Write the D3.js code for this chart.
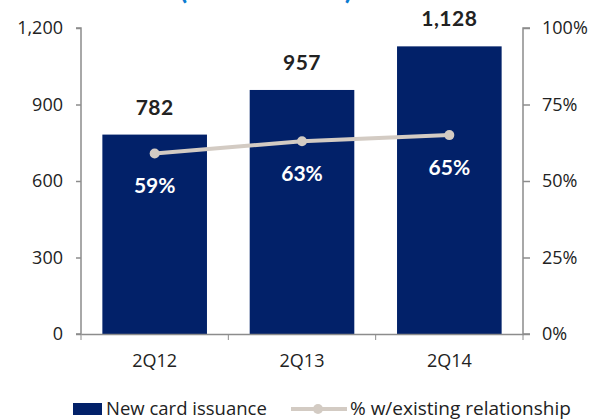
<!DOCTYPE html>
<html>
<head>
<meta charset="utf-8">
<script src="https://cdn.jsdelivr.net/npm/d3@7"></script>
<style>
  body { margin: 0; background: #fff; }
  svg { display: block; font-family: "Open Sans", sans-serif; }
</style>
</head>
<body>
<svg id="chart" width="591" height="420"></svg>
<script>
// new card issuance (thousands) and share with an existing relationship
var quarters = ["2Q12", "2Q13", "2Q14"];
var issuance = [782, 957, 1128];
var pctExisting = [0.59, 0.63, 0.65];
var leftTicks = [0, 300, 600, 900, 1200];
var rightTicks = [0, 0.25, 0.5, 0.75, 1];

var margin = {top: 28, right: 68, bottom: 86, left: 81},
    width = 591 - margin.left - margin.right,
    height = 420 - margin.top - margin.bottom;

var svg = d3.select("#chart");

// title sits mostly above the picture, only the parens peek in
svg.append("text")
    .attr("x", 266)
    .attr("y", -1)
    .attr("text-anchor", "middle")
    .style("font-family", "Lato, sans-serif")
    .style("font-size", "28px")
    .style("font-weight", "bold")
    .style("fill", "#0a7bd1")
    .text("(in thousands)");

var g = svg.append("g")
    .attr("transform", "translate(" + margin.left + "," + margin.top + ")");

var x = d3.scaleBand()
    .domain(quarters)
    .range([0, width])
    .paddingInner(0.29)
    .paddingOuter(0.145);

var y = d3.scaleLinear()
    .domain([0, 1200])
    .range([height, 0]);

var y2 = d3.scaleLinear()
    .domain([0, 1])
    .range([height, 0]);

// bars
g.selectAll(".bar")
    .data(issuance)
    .enter().append("rect")
    .attr("class", "bar")
    .attr("x", function(d, i) { return x(quarters[i]); })
    .attr("y", function(d) { return y(d); })
    .attr("width", x.bandwidth())
    .attr("height", function(d) { return height - y(d); })
    .style("fill", "#022169");

g.selectAll(".barlabel")
    .data(issuance)
    .enter().append("text")
    .attr("class", "barlabel")
    .attr("x", function(d, i) { return x(quarters[i]) + x.bandwidth() / 2; })
    .attr("y", function(d) { return y(d) - 20; })
    .attr("text-anchor", "middle")
    .style("font-family", "Lato, sans-serif")
    .style("font-size", "21px")
    .style("font-weight", "bold")
    .style("letter-spacing", "0.5px")
    .style("fill", "#222")
    .text(d3.format(","));

// axes
var axisColor = "#8c8c8c";

var yAxis = g.append("g")
    .call(d3.axisLeft(y).tickValues(leftTicks).tickSize(5).tickPadding(13).tickFormat(d3.format(",")));

var y2Axis = g.append("g")
    .attr("transform", "translate(" + width + ",0)")
    .call(d3.axisRight(y2).tickValues(rightTicks).tickSize(7).tickPadding(12).tickFormat(d3.format(".0%")));

var xAxis = g.append("g")
    .attr("transform", "translate(0," + height + ")")
    .call(d3.axisBottom(x).tickSize(0).tickPadding(20));

// ticks between categories on the x axis
var step = x.step();
g.selectAll(".xtick")
    .data(d3.range(quarters.length + 1))
    .enter().append("line")
    .attr("class", "xtick")
    .attr("x1", function(i) { return i * step; })
    .attr("x2", function(i) { return i * step; })
    .attr("y1", height)
    .attr("y2", height + 6)
    .style("stroke", axisColor);

[yAxis, y2Axis, xAxis].forEach(function(a) {
    a.select(".domain").style("stroke", axisColor).style("stroke-width", 1.5);
    a.selectAll(".tick line").style("stroke", axisColor).style("stroke-width", 1.5);
    a.selectAll("text").style("font-size", "18px").style("fill", "#222").style("font-family", "'Open Sans', sans-serif");
});
yAxis.select(".domain").attr("d", "M-5," + height + "H0V0H-5");
y2Axis.select(".domain").attr("d", "M7," + height + "H0V0H7");

// line
var line = d3.line()
    .x(function(d, i) { return x(quarters[i]) + x.bandwidth() / 2; })
    .y(function(d) { return y2(d); });

g.append("path")
    .datum(pctExisting)
    .attr("d", line)
    .style("fill", "none")
    .style("stroke", "#d3cbc3")
    .style("stroke-width", 4);

g.selectAll(".dot")
    .data(pctExisting)
    .enter().append("circle")
    .attr("cx", function(d, i) { return x(quarters[i]) + x.bandwidth() / 2; })
    .attr("cy", function(d) { return y2(d); })
    .attr("r", 5)
    .style("fill", "#d3cbc3");

g.selectAll(".pctlabel")
    .data(pctExisting)
    .enter().append("text")
    .attr("class", "pctlabel")
    .attr("x", function(d, i) { return x(quarters[i]) + x.bandwidth() / 2; })
    .attr("y", function(d) { return y2(d) + 40; })
    .attr("text-anchor", "middle")
    .style("font-family", "Lato, sans-serif")
    .style("font-size", "21px")
    .style("font-weight", "bold")
    .style("fill", "#fff")
    .text(d3.format(".0%"));

// legend
var legend = svg.append("g").attr("transform", "translate(0,409)");
legend.append("rect")
    .attr("x", 73).attr("y", -6).attr("width", 29).attr("height", 12)
    .style("fill", "#022169");
legend.append("text")
    .attr("x", 106).attr("y", 6)
    .style("font-size", "18.5px").style("fill", "#222")
    .text("New card issuance");
legend.append("line")
    .attr("x1", 291).attr("x2", 347).attr("y1", 0).attr("y2", 0)
    .style("stroke", "#d3cbc3").style("stroke-width", 4);
legend.append("circle")
    .attr("cx", 318).attr("cy", 0).attr("r", 5)
    .style("fill", "#d3cbc3");
legend.append("text")
    .attr("x", 350).attr("y", 6)
    .style("font-size", "19px").style("fill", "#222")
    .text("% w/existing relationship");
</script>
</body>
</html>
